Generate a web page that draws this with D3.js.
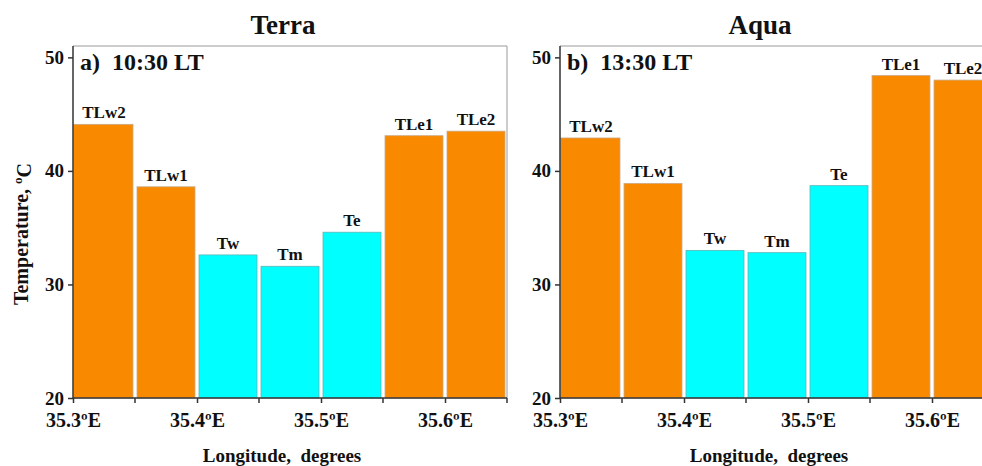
<!DOCTYPE html>
<html>
<head>
<meta charset="utf-8">
<script src="https://cdn.jsdelivr.net/npm/d3@7"></script>
<style>
  body { margin: 0; background: #fff; }
  text { font-family: 'Liberation Serif', 'Times New Roman', serif; font-weight: bold; fill: #111; }
</style>
</head>
<body>
<div id="chart"></div>
<script>
const w = 982, h = 466;

// bins along longitude (deg E), 0.05 wide
const binStart = [35.30, 35.35, 35.40, 35.45, 35.50, 35.55, 35.60];
const barNames = ['TLw2', 'TLw1', 'Tw', 'Tm', 'Te', 'TLe1', 'TLe2'];
const barKind = ['land', 'land', 'lake', 'lake', 'lake', 'land', 'land'];
const terraTemps = [44.1, 38.6, 32.6, 31.6, 34.6, 43.1, 43.5];
const aquaTemps = [42.9, 38.9, 33.0, 32.8, 38.7, 48.4, 48.0];
const xTickValues = [35.3, 35.4, 35.5, 35.6];
const yTickValues = [20, 30, 40, 50];
const binWidth = 0.05;

const colors = { land: '#f98a00', lake: '#00ffff' };

const svg = d3.select('#chart').append('svg')
  .attr('width', w).attr('height', h);

const y = d3.scaleLinear().domain([20, 51]).range([398, 46]);

function drawPanel(opt) {
  const x = d3.scaleLinear().domain([35.3, 35.65]).range([opt.x0, opt.x0 + 434]);
  const g = svg.append('g');

  // frame top and right
  g.append('path')
    .attr('d', `M${x(35.3)},${y(51)}H${x(35.65)}V${y(20)}`)
    .attr('fill', 'none').attr('stroke', '#999').attr('stroke-width', 1);

  const data = binStart.map((b, i) => ({ b, name: barNames[i], kind: barKind[i], v: opt.temps[i] }));

  g.selectAll('rect.bar')
    .data(data)
    .join('rect')
    .attr('class', 'bar')
    .attr('x', (d, i) => x(d.b) + (i === 0 ? 0.5 : 2))
    .attr('width', (d, i) => x(d.b + binWidth) - x(d.b) - (i === 0 ? 2.5 : 4))
    .attr('y', d => y(d.v))
    .attr('height', d => y(20) - y(d.v))
    .attr('fill', d => colors[d.kind])
    .attr('stroke', d => d.kind === 'lake' ? '#5fb5b5' : '#c9a98a')
    .attr('stroke-width', 0.8);

  g.selectAll('text.blabel')
    .data(data)
    .join('text')
    .attr('class', 'blabel')
    .attr('x', d => x(d.b + binWidth / 2))
    .attr('y', d => y(d.v) - 6)
    .attr('text-anchor', 'middle')
    .style('font-size', '17px')
    .text(d => d.name);

  // y axis
  const yAxis = g.append('g')
    .attr('transform', `translate(${opt.x0},0)`)
    .call(d3.axisLeft(y).tickValues(yTickValues).tickSize(5).tickPadding(4).tickFormat(d3.format('d')));
  yAxis.select('.domain').attr('d', `M0,${y(51)}V${y(20)}`).attr('stroke', '#333').attr('stroke-width', 1.5);
  yAxis.selectAll('.tick line').attr('stroke', '#333').attr('stroke-width', 1.5);
  yAxis.selectAll('.tick text').style('font-size', '19px').attr('font-family', null).attr('dy', '0.32em');

  // x axis
  const xAxis = g.append('g')
    .attr('transform', `translate(0,${y(20)})`)
    .call(d3.axisBottom(x).tickValues(xTickValues).tickSize(5).tickPadding(10)
      .tickFormat(d => d3.format('.1f')(d) + 'ºE'));
  xAxis.select('.domain').attr('d', `M${x(35.3)},0H${x(35.65)}`).attr('stroke', '#333').attr('stroke-width', 1.5);
  xAxis.selectAll('.tick line').attr('stroke', '#333').attr('stroke-width', 1.5);
  xAxis.selectAll('.tick text').style('font-size', '20px').attr('font-family', null).attr('dy', '0.71em');
  xAxis.selectAll('.minor')
    .data([35.35, 35.45, 35.55, 35.65])
    .join('line')
    .attr('class', 'minor')
    .attr('x1', d => x(d)).attr('x2', d => x(d))
    .attr('y1', 0).attr('y2', 5)
    .attr('stroke', '#333').attr('stroke-width', 1.5);

  g.append('text')
    .attr('x', opt.x0 + opt.titleDx).attr('y', 34)
    .attr('text-anchor', 'middle')
    .style('font-size', '27px')
    .text(opt.title);

  g.append('text')
    .attr('x', opt.x0 + 7).attr('y', 70)
    .style('font-size', '24px')
    .attr('xml:space', 'preserve')
    .text(opt.label);

  g.append('text')
    .attr('x', opt.x0 + 209).attr('y', 462)
    .attr('text-anchor', 'middle')
    .style('font-size', '19px')
    .attr('xml:space', 'preserve')
    .text('Longitude,  degrees');
}

drawPanel({ x0: 73, temps: terraTemps, title: 'Terra', titleDx: 210, label: 'a)  10:30 LT' });
drawPanel({ x0: 560, temps: aquaTemps, title: 'Aqua', titleDx: 200, label: 'b)  13:30 LT' });

// y axis title, left panel only
const yt = svg.append('text')
  .attr('transform', `translate(28,${(y(20) + y(51)) / 2 + 12}) rotate(-90)`)
  .attr('text-anchor', 'middle')
  .style('font-size', '20px');
yt.append('tspan').text('Temperature,  ');
yt.append('tspan').attr('dy', '-0.45em').style('font-size', '13px').text('o');
yt.append('tspan').attr('dy', '0.45em').text('C');
</script>
</body>
</html>
